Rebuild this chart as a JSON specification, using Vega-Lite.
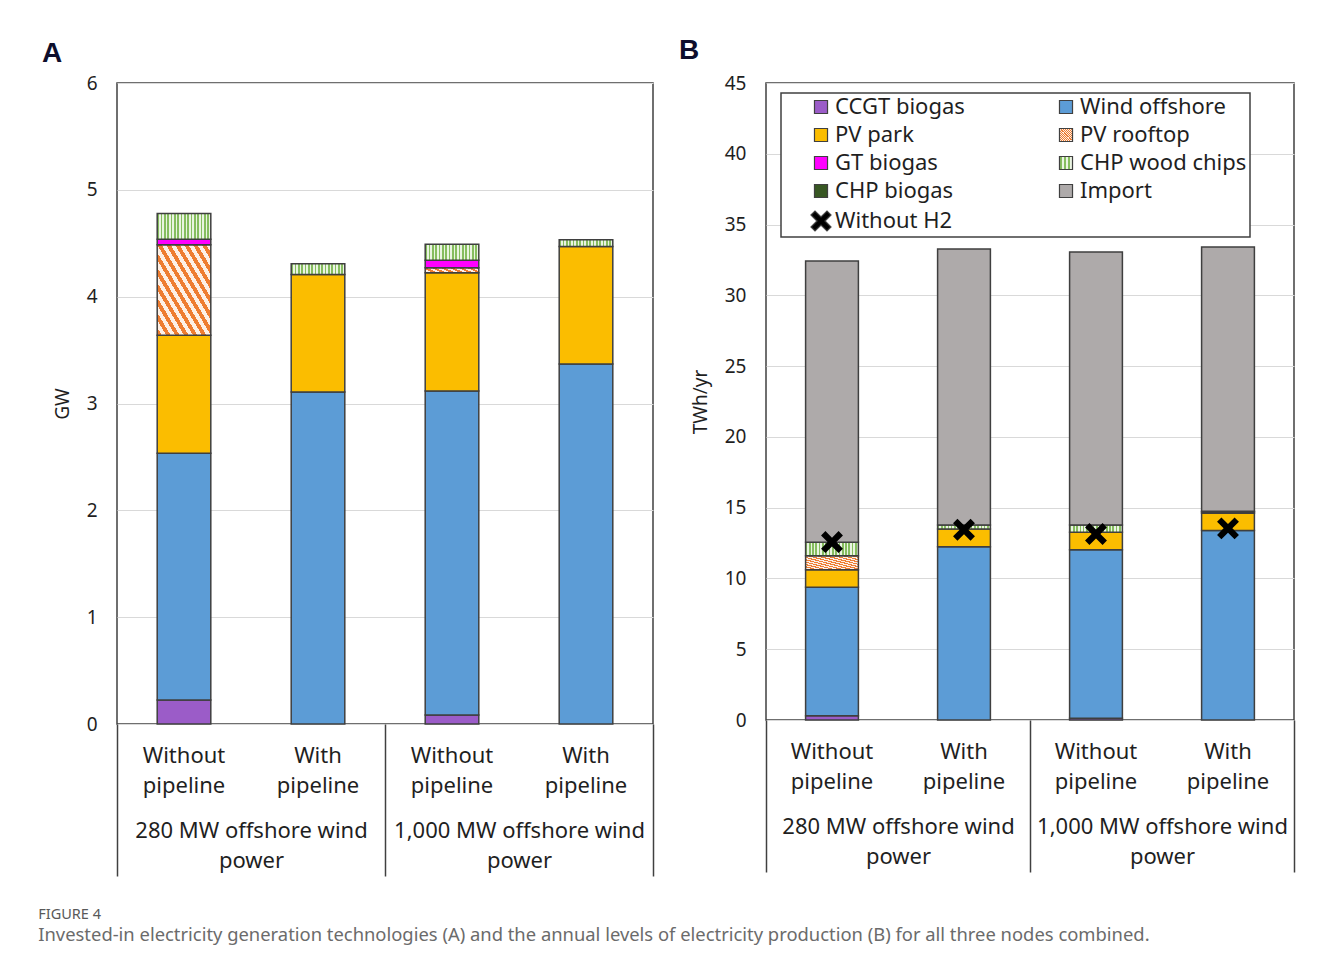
{
  "$schema": "https://vega.github.io/schema/vega-lite/v6.json",
  "background": "white",
  "padding": {"left": 38, "top": 36, "right": 10, "bottom": 10},
  "datasets": {
    "capacity": [
      {"group": "280 MW offshore wind power", "case": "280 MW, without pipeline", "tech": "CCGT biogas", "value": 0.225},
      {"group": "280 MW offshore wind power", "case": "280 MW, without pipeline", "tech": "Wind offshore", "value": 2.31},
      {"group": "280 MW offshore wind power", "case": "280 MW, without pipeline", "tech": "PV park", "value": 1.105},
      {"group": "280 MW offshore wind power", "case": "280 MW, without pipeline", "tech": "PV rooftop", "value": 0.845},
      {"group": "280 MW offshore wind power", "case": "280 MW, without pipeline", "tech": "GT biogas", "value": 0.053},
      {"group": "280 MW offshore wind power", "case": "280 MW, without pipeline", "tech": "CHP wood chips", "value": 0.24},
      {"group": "280 MW offshore wind power", "case": "280 MW, with pipeline", "tech": "Wind offshore", "value": 3.108},
      {"group": "280 MW offshore wind power", "case": "280 MW, with pipeline", "tech": "PV park", "value": 1.1},
      {"group": "280 MW offshore wind power", "case": "280 MW, with pipeline", "tech": "CHP wood chips", "value": 0.1},
      {"group": "1,000 MW offshore wind power", "case": "1,000 MW, without pipeline", "tech": "CCGT biogas", "value": 0.084},
      {"group": "1,000 MW offshore wind power", "case": "1,000 MW, without pipeline", "tech": "Wind offshore", "value": 3.033},
      {"group": "1,000 MW offshore wind power", "case": "1,000 MW, without pipeline", "tech": "PV park", "value": 1.108},
      {"group": "1,000 MW offshore wind power", "case": "1,000 MW, without pipeline", "tech": "PV rooftop", "value": 0.045},
      {"group": "1,000 MW offshore wind power", "case": "1,000 MW, without pipeline", "tech": "GT biogas", "value": 0.07},
      {"group": "1,000 MW offshore wind power", "case": "1,000 MW, without pipeline", "tech": "CHP wood chips", "value": 0.15},
      {"group": "1,000 MW offshore wind power", "case": "1,000 MW, with pipeline", "tech": "Wind offshore", "value": 3.37},
      {"group": "1,000 MW offshore wind power", "case": "1,000 MW, with pipeline", "tech": "PV park", "value": 1.1},
      {"group": "1,000 MW offshore wind power", "case": "1,000 MW, with pipeline", "tech": "CHP wood chips", "value": 0.063}
    ],
    "production": [
      {"group": "280 MW offshore wind power", "case": "280 MW, without pipeline", "tech": "CCGT biogas", "value": 0.3},
      {"group": "280 MW offshore wind power", "case": "280 MW, without pipeline", "tech": "Wind offshore", "value": 9.07},
      {"group": "280 MW offshore wind power", "case": "280 MW, without pipeline", "tech": "PV park", "value": 1.25},
      {"group": "280 MW offshore wind power", "case": "280 MW, without pipeline", "tech": "PV rooftop", "value": 0.99},
      {"group": "280 MW offshore wind power", "case": "280 MW, without pipeline", "tech": "CHP wood chips", "value": 0.94},
      {"group": "280 MW offshore wind power", "case": "280 MW, without pipeline", "tech": "Import", "value": 19.87},
      {"group": "280 MW offshore wind power", "case": "280 MW, with pipeline", "tech": "Wind offshore", "value": 12.24},
      {"group": "280 MW offshore wind power", "case": "280 MW, with pipeline", "tech": "PV park", "value": 1.25},
      {"group": "280 MW offshore wind power", "case": "280 MW, with pipeline", "tech": "CHP wood chips", "value": 0.29},
      {"group": "280 MW offshore wind power", "case": "280 MW, with pipeline", "tech": "Import", "value": 19.49},
      {"group": "1,000 MW offshore wind power", "case": "1,000 MW, without pipeline", "tech": "CCGT biogas", "value": 0.12},
      {"group": "1,000 MW offshore wind power", "case": "1,000 MW, without pipeline", "tech": "Wind offshore", "value": 11.91},
      {"group": "1,000 MW offshore wind power", "case": "1,000 MW, without pipeline", "tech": "PV park", "value": 1.23},
      {"group": "1,000 MW offshore wind power", "case": "1,000 MW, without pipeline", "tech": "CHP wood chips", "value": 0.52},
      {"group": "1,000 MW offshore wind power", "case": "1,000 MW, without pipeline", "tech": "Import", "value": 19.28},
      {"group": "1,000 MW offshore wind power", "case": "1,000 MW, with pipeline", "tech": "Wind offshore", "value": 13.38},
      {"group": "1,000 MW offshore wind power", "case": "1,000 MW, with pipeline", "tech": "PV park", "value": 1.22},
      {"group": "1,000 MW offshore wind power", "case": "1,000 MW, with pipeline", "tech": "CHP wood chips", "value": 0.1},
      {"group": "1,000 MW offshore wind power", "case": "1,000 MW, with pipeline", "tech": "CHP biogas", "value": 0.04},
      {"group": "1,000 MW offshore wind power", "case": "1,000 MW, with pipeline", "tech": "Import", "value": 18.67}
    ],
    "withoutH2": [
      {"case": "280 MW, without pipeline", "tech": "Without H2", "value": 12.57},
      {"case": "280 MW, with pipeline", "tech": "Without H2", "value": 13.44},
      {"case": "1,000 MW, without pipeline", "tech": "Without H2", "value": 13.14},
      {"case": "1,000 MW, with pipeline", "tech": "Without H2", "value": 13.54}
    ]
  },
  "title": {
    "text": "FIGURE 4",
    "subtitle": "Invested-in electricity generation technologies (A) and the annual levels of electricity production (B) for all three nodes combined.",
    "orient": "bottom",
    "anchor": "start",
    "frame": "bounds",
    "offset": 30,
    "dx": -3,
    "font": "Noto Sans",
    "fontSize": 14.5,
    "fontWeight": "normal",
    "color": "#595959",
    "subtitleFont": "Noto Sans",
    "subtitleFontSize": 18.4,
    "subtitleColor": "#6b6b6b",
    "subtitlePadding": 4
  },
  "spacing": 23,
  "hconcat": [
    {
      "width": 536,
      "height": 641,
      "title": {"text": "A", "anchor": "start", "frame": "group", "dx": -75, "offset": 6, "font": "Liberation Sans", "fontSize": 28, "fontWeight": "bold", "color": "#0e0e2c"},
      "data": {"name": "capacity"},
      "layer": [
        {
          "transform": [{"calculate": "indexof(['CCGT biogas','Wind offshore','PV park','PV rooftop','GT biogas','CHP wood chips','CHP biogas','Import'], datum.tech)", "as": "rank"}],
          "mark": {"type": "bar", "stroke": "#3f3f3f", "strokeWidth": 1.5},
          "encoding": {
            "x": {
              "field": "case", "type": "nominal",
              "sort": ["280 MW, without pipeline", "280 MW, with pipeline", "1,000 MW, without pipeline", "1,000 MW, with pipeline"],
              "scale": {"paddingInner": 0.6, "paddingOuter": 0.3},
              "axis": {"orient": "bottom", "title": null, "domain": false, "ticks": false, "grid": false, "labelAngle": 0, "labelFontSize": 22, "labelLineHeight": 30, "labelPadding": 21, "labelOverlap": false, "labelBaseline": "top", "labelExpr": "indexof(datum.label, 'without') >= 0 ? ['Without', 'pipeline'] : ['With', 'pipeline']"}
            },
            "y": {
              "field": "value", "type": "quantitative", "stack": "zero",
              "scale": {"domain": [0, 6], "nice": false},
              "axis": {"title": "GW", "values": [0, 1, 2, 3, 4, 5, 6]}
            },
            "color": {
              "field": "tech", "type": "nominal", "legend": null,
              "scale": {
                "domain": ["CCGT biogas", "Wind offshore", "PV park", "PV rooftop", "GT biogas", "CHP wood chips", "CHP biogas", "Import", "Without H2"],
                "range": [
                  "#9b5cc8",
                  "#5c9cd6",
                  "#fbbd00",
                  {"expr": "{gradient: 'linear', x1: 0, y1: 1, x2: 1, y2: 0, stops: [{offset: 0, color: '#ee7d31'}, {offset: 0.0417, color: '#ee7d31'}, {offset: 0.0417, color: '#fdf0e6'}, {offset: 0.0833, color: '#fdf0e6'}, {offset: 0.0833, color: '#ee7d31'}, {offset: 0.125, color: '#ee7d31'}, {offset: 0.125, color: '#fdf0e6'}, {offset: 0.1667, color: '#fdf0e6'}, {offset: 0.1667, color: '#ee7d31'}, {offset: 0.2083, color: '#ee7d31'}, {offset: 0.2083, color: '#fdf0e6'}, {offset: 0.25, color: '#fdf0e6'}, {offset: 0.25, color: '#ee7d31'}, {offset: 0.2917, color: '#ee7d31'}, {offset: 0.2917, color: '#fdf0e6'}, {offset: 0.3333, color: '#fdf0e6'}, {offset: 0.3333, color: '#ee7d31'}, {offset: 0.375, color: '#ee7d31'}, {offset: 0.375, color: '#fdf0e6'}, {offset: 0.4167, color: '#fdf0e6'}, {offset: 0.4167, color: '#ee7d31'}, {offset: 0.4583, color: '#ee7d31'}, {offset: 0.4583, color: '#fdf0e6'}, {offset: 0.5, color: '#fdf0e6'}, {offset: 0.5, color: '#ee7d31'}, {offset: 0.5417, color: '#ee7d31'}, {offset: 0.5417, color: '#fdf0e6'}, {offset: 0.5833, color: '#fdf0e6'}, {offset: 0.5833, color: '#ee7d31'}, {offset: 0.625, color: '#ee7d31'}, {offset: 0.625, color: '#fdf0e6'}, {offset: 0.6667, color: '#fdf0e6'}, {offset: 0.6667, color: '#ee7d31'}, {offset: 0.7083, color: '#ee7d31'}, {offset: 0.7083, color: '#fdf0e6'}, {offset: 0.75, color: '#fdf0e6'}, {offset: 0.75, color: '#ee7d31'}, {offset: 0.7917, color: '#ee7d31'}, {offset: 0.7917, color: '#fdf0e6'}, {offset: 0.8333, color: '#fdf0e6'}, {offset: 0.8333, color: '#ee7d31'}, {offset: 0.875, color: '#ee7d31'}, {offset: 0.875, color: '#fdf0e6'}, {offset: 0.9167, color: '#fdf0e6'}, {offset: 0.9167, color: '#ee7d31'}, {offset: 0.9583, color: '#ee7d31'}, {offset: 0.9583, color: '#fdf0e6'}, {offset: 1, color: '#fdf0e6'}]}"},
                  "#ff00ff",
                  {"expr": "{gradient: 'linear', x1: 0, y1: 0, x2: 1, y2: 0, stops: [{offset: 0, color: '#86bd5f'}, {offset: 0.03125, color: '#86bd5f'}, {offset: 0.03125, color: '#eaf4e2'}, {offset: 0.0625, color: '#eaf4e2'}, {offset: 0.0625, color: '#86bd5f'}, {offset: 0.09375, color: '#86bd5f'}, {offset: 0.09375, color: '#eaf4e2'}, {offset: 0.125, color: '#eaf4e2'}, {offset: 0.125, color: '#86bd5f'}, {offset: 0.15625, color: '#86bd5f'}, {offset: 0.15625, color: '#eaf4e2'}, {offset: 0.1875, color: '#eaf4e2'}, {offset: 0.1875, color: '#86bd5f'}, {offset: 0.21875, color: '#86bd5f'}, {offset: 0.21875, color: '#eaf4e2'}, {offset: 0.25, color: '#eaf4e2'}, {offset: 0.25, color: '#86bd5f'}, {offset: 0.28125, color: '#86bd5f'}, {offset: 0.28125, color: '#eaf4e2'}, {offset: 0.3125, color: '#eaf4e2'}, {offset: 0.3125, color: '#86bd5f'}, {offset: 0.34375, color: '#86bd5f'}, {offset: 0.34375, color: '#eaf4e2'}, {offset: 0.375, color: '#eaf4e2'}, {offset: 0.375, color: '#86bd5f'}, {offset: 0.40625, color: '#86bd5f'}, {offset: 0.40625, color: '#eaf4e2'}, {offset: 0.4375, color: '#eaf4e2'}, {offset: 0.4375, color: '#86bd5f'}, {offset: 0.46875, color: '#86bd5f'}, {offset: 0.46875, color: '#eaf4e2'}, {offset: 0.5, color: '#eaf4e2'}, {offset: 0.5, color: '#86bd5f'}, {offset: 0.53125, color: '#86bd5f'}, {offset: 0.53125, color: '#eaf4e2'}, {offset: 0.5625, color: '#eaf4e2'}, {offset: 0.5625, color: '#86bd5f'}, {offset: 0.59375, color: '#86bd5f'}, {offset: 0.59375, color: '#eaf4e2'}, {offset: 0.625, color: '#eaf4e2'}, {offset: 0.625, color: '#86bd5f'}, {offset: 0.65625, color: '#86bd5f'}, {offset: 0.65625, color: '#eaf4e2'}, {offset: 0.6875, color: '#eaf4e2'}, {offset: 0.6875, color: '#86bd5f'}, {offset: 0.71875, color: '#86bd5f'}, {offset: 0.71875, color: '#eaf4e2'}, {offset: 0.75, color: '#eaf4e2'}, {offset: 0.75, color: '#86bd5f'}, {offset: 0.78125, color: '#86bd5f'}, {offset: 0.78125, color: '#eaf4e2'}, {offset: 0.8125, color: '#eaf4e2'}, {offset: 0.8125, color: '#86bd5f'}, {offset: 0.84375, color: '#86bd5f'}, {offset: 0.84375, color: '#eaf4e2'}, {offset: 0.875, color: '#eaf4e2'}, {offset: 0.875, color: '#86bd5f'}, {offset: 0.90625, color: '#86bd5f'}, {offset: 0.90625, color: '#eaf4e2'}, {offset: 0.9375, color: '#eaf4e2'}, {offset: 0.9375, color: '#86bd5f'}, {offset: 0.96875, color: '#86bd5f'}, {offset: 0.96875, color: '#eaf4e2'}, {offset: 1, color: '#eaf4e2'}]}"},
                  "#385723",
                  "#aeaaaa",
                  "#000000"
                ]
              }
            },
            "order": {"field": "rank", "type": "quantitative", "sort": "ascending"}
          }
        },
        {
          "mark": {"type": "rule", "strokeOpacity": 0},
          "encoding": {
            "x": {
              "field": "group", "type": "nominal",
              "sort": ["280 MW offshore wind power", "1,000 MW offshore wind power"],
              "scale": {"type": "band", "paddingInner": 0, "paddingOuter": 0},
              "axis": {"orient": "bottom", "title": null, "domain": false, "ticks": true, "tickBand": "extent", "tickSize": 152, "tickColor": "#404040", "tickWidth": 1.5, "grid": false, "labelAngle": 0, "labelFontSize": 22, "labelLineHeight": 30, "labelPadding": -56, "labelLimit": 400, "labelOverlap": false, "labelBaseline": "top", "labelExpr": "datum.label ? [replace(datum.label, ' power', ''), 'power'] : ''"}
            }
          }
        }
      ],
      "resolve": {"scale": {"x": "independent"}, "axis": {"x": "independent"}}
    },
    {
      "width": 528,
      "height": 637,
      "title": {"text": "B", "anchor": "start", "frame": "group", "dx": -87, "offset": 9, "font": "Liberation Sans", "fontSize": 28, "fontWeight": "bold", "color": "#0e0e2c"},
      "layer": [
        {
          "layer": [
            {
              "data": {"name": "production"},
              "transform": [{"calculate": "indexof(['CCGT biogas','Wind offshore','PV park','PV rooftop','GT biogas','CHP wood chips','CHP biogas','Import'], datum.tech)", "as": "rank"}],
              "mark": {"type": "bar", "stroke": "#3f3f3f", "strokeWidth": 1.5},
              "encoding": {
                "x": {
                  "field": "case", "type": "nominal",
                  "sort": ["280 MW, without pipeline", "280 MW, with pipeline", "1,000 MW, without pipeline", "1,000 MW, with pipeline"],
                  "scale": {"paddingInner": 0.6, "paddingOuter": 0.3},
                  "axis": {"orient": "bottom", "title": null, "domain": false, "ticks": false, "grid": false, "labelAngle": 0, "labelFontSize": 22, "labelLineHeight": 30, "labelPadding": 21, "labelOverlap": false, "labelBaseline": "top", "labelExpr": "indexof(datum.label, 'without') >= 0 ? ['Without', 'pipeline'] : ['With', 'pipeline']"}
                },
                "y": {
                  "field": "value", "type": "quantitative", "stack": "zero",
                  "scale": {"domain": [0, 45], "nice": false},
                  "axis": {"title": "TWh/yr", "values": [0, 5, 10, 15, 20, 25, 30, 35, 40, 45]}
                },
                "color": {
                  "field": "tech", "type": "nominal",
                  "legend": {
                    "title": null, "orient": "none", "legendX": 15, "legendY": 10, "direction": "horizontal", "columns": 2,
                    "symbolType": "square", "symbolSize": 170, "symbolStrokeColor": "#404040", "symbolStrokeWidth": 1.2,
                    "labelFont": "Noto Sans", "labelFontSize": 22, "labelColor": "#1f1f1f", "labelLimit": 300, "labelOffset": 3,
                    "rowPadding": 6, "columnPadding": 64, "padding": 3, "symbolOffset": 26,
                    "strokeColor": "#404040", "fillColor": "white",
                    "encode": {
                      "symbols": {"update": {
                        "shape": {"signal": "datum.value === 'Without H2' ? 'M-1,-0.6L-0.6,-1L0,-0.4L0.6,-1L1,-0.6L0.4,0L1,0.6L0.6,1L0,0.4L-0.6,1L-1,0.6L-0.4,0Z' : 'square'"},
                        "size": {"signal": "datum.value === 'Without H2' ? 400 : 170"}
                      }},
                      "legend": {"update": {"strokeWidth": {"value": 1.5}}}
                    }
                  },
                  "scale": {
                    "domain": ["CCGT biogas", "Wind offshore", "PV park", "PV rooftop", "GT biogas", "CHP wood chips", "CHP biogas", "Import", "Without H2"],
                    "range": [
                      "#9b5cc8",
                      "#5c9cd6",
                      "#fbbd00",
                      {"expr": "{gradient: 'linear', x1: 0, y1: 1, x2: 1, y2: 0, stops: [{offset: 0, color: '#ee7d31'}, {offset: 0.0417, color: '#ee7d31'}, {offset: 0.0417, color: '#fdf0e6'}, {offset: 0.0833, color: '#fdf0e6'}, {offset: 0.0833, color: '#ee7d31'}, {offset: 0.125, color: '#ee7d31'}, {offset: 0.125, color: '#fdf0e6'}, {offset: 0.1667, color: '#fdf0e6'}, {offset: 0.1667, color: '#ee7d31'}, {offset: 0.2083, color: '#ee7d31'}, {offset: 0.2083, color: '#fdf0e6'}, {offset: 0.25, color: '#fdf0e6'}, {offset: 0.25, color: '#ee7d31'}, {offset: 0.2917, color: '#ee7d31'}, {offset: 0.2917, color: '#fdf0e6'}, {offset: 0.3333, color: '#fdf0e6'}, {offset: 0.3333, color: '#ee7d31'}, {offset: 0.375, color: '#ee7d31'}, {offset: 0.375, color: '#fdf0e6'}, {offset: 0.4167, color: '#fdf0e6'}, {offset: 0.4167, color: '#ee7d31'}, {offset: 0.4583, color: '#ee7d31'}, {offset: 0.4583, color: '#fdf0e6'}, {offset: 0.5, color: '#fdf0e6'}, {offset: 0.5, color: '#ee7d31'}, {offset: 0.5417, color: '#ee7d31'}, {offset: 0.5417, color: '#fdf0e6'}, {offset: 0.5833, color: '#fdf0e6'}, {offset: 0.5833, color: '#ee7d31'}, {offset: 0.625, color: '#ee7d31'}, {offset: 0.625, color: '#fdf0e6'}, {offset: 0.6667, color: '#fdf0e6'}, {offset: 0.6667, color: '#ee7d31'}, {offset: 0.7083, color: '#ee7d31'}, {offset: 0.7083, color: '#fdf0e6'}, {offset: 0.75, color: '#fdf0e6'}, {offset: 0.75, color: '#ee7d31'}, {offset: 0.7917, color: '#ee7d31'}, {offset: 0.7917, color: '#fdf0e6'}, {offset: 0.8333, color: '#fdf0e6'}, {offset: 0.8333, color: '#ee7d31'}, {offset: 0.875, color: '#ee7d31'}, {offset: 0.875, color: '#fdf0e6'}, {offset: 0.9167, color: '#fdf0e6'}, {offset: 0.9167, color: '#ee7d31'}, {offset: 0.9583, color: '#ee7d31'}, {offset: 0.9583, color: '#fdf0e6'}, {offset: 1, color: '#fdf0e6'}]}"},
                      "#ff00ff",
                      {"expr": "{gradient: 'linear', x1: 0, y1: 0, x2: 1, y2: 0, stops: [{offset: 0, color: '#86bd5f'}, {offset: 0.03125, color: '#86bd5f'}, {offset: 0.03125, color: '#eaf4e2'}, {offset: 0.0625, color: '#eaf4e2'}, {offset: 0.0625, color: '#86bd5f'}, {offset: 0.09375, color: '#86bd5f'}, {offset: 0.09375, color: '#eaf4e2'}, {offset: 0.125, color: '#eaf4e2'}, {offset: 0.125, color: '#86bd5f'}, {offset: 0.15625, color: '#86bd5f'}, {offset: 0.15625, color: '#eaf4e2'}, {offset: 0.1875, color: '#eaf4e2'}, {offset: 0.1875, color: '#86bd5f'}, {offset: 0.21875, color: '#86bd5f'}, {offset: 0.21875, color: '#eaf4e2'}, {offset: 0.25, color: '#eaf4e2'}, {offset: 0.25, color: '#86bd5f'}, {offset: 0.28125, color: '#86bd5f'}, {offset: 0.28125, color: '#eaf4e2'}, {offset: 0.3125, color: '#eaf4e2'}, {offset: 0.3125, color: '#86bd5f'}, {offset: 0.34375, color: '#86bd5f'}, {offset: 0.34375, color: '#eaf4e2'}, {offset: 0.375, color: '#eaf4e2'}, {offset: 0.375, color: '#86bd5f'}, {offset: 0.40625, color: '#86bd5f'}, {offset: 0.40625, color: '#eaf4e2'}, {offset: 0.4375, color: '#eaf4e2'}, {offset: 0.4375, color: '#86bd5f'}, {offset: 0.46875, color: '#86bd5f'}, {offset: 0.46875, color: '#eaf4e2'}, {offset: 0.5, color: '#eaf4e2'}, {offset: 0.5, color: '#86bd5f'}, {offset: 0.53125, color: '#86bd5f'}, {offset: 0.53125, color: '#eaf4e2'}, {offset: 0.5625, color: '#eaf4e2'}, {offset: 0.5625, color: '#86bd5f'}, {offset: 0.59375, color: '#86bd5f'}, {offset: 0.59375, color: '#eaf4e2'}, {offset: 0.625, color: '#eaf4e2'}, {offset: 0.625, color: '#86bd5f'}, {offset: 0.65625, color: '#86bd5f'}, {offset: 0.65625, color: '#eaf4e2'}, {offset: 0.6875, color: '#eaf4e2'}, {offset: 0.6875, color: '#86bd5f'}, {offset: 0.71875, color: '#86bd5f'}, {offset: 0.71875, color: '#eaf4e2'}, {offset: 0.75, color: '#eaf4e2'}, {offset: 0.75, color: '#86bd5f'}, {offset: 0.78125, color: '#86bd5f'}, {offset: 0.78125, color: '#eaf4e2'}, {offset: 0.8125, color: '#eaf4e2'}, {offset: 0.8125, color: '#86bd5f'}, {offset: 0.84375, color: '#86bd5f'}, {offset: 0.84375, color: '#eaf4e2'}, {offset: 0.875, color: '#eaf4e2'}, {offset: 0.875, color: '#86bd5f'}, {offset: 0.90625, color: '#86bd5f'}, {offset: 0.90625, color: '#eaf4e2'}, {offset: 0.9375, color: '#eaf4e2'}, {offset: 0.9375, color: '#86bd5f'}, {offset: 0.96875, color: '#86bd5f'}, {offset: 0.96875, color: '#eaf4e2'}, {offset: 1, color: '#eaf4e2'}]}"},
                      "#385723",
                      "#aeaaaa",
                      "#000000"
                    ]
                  }
                },
                "order": {"field": "rank", "type": "quantitative", "sort": "ascending"}
              }
            },
            {
              "data": {"name": "withoutH2"},
              "mark": {"type": "point", "shape": "M-1,-0.6L-0.6,-1L0,-0.4L0.6,-1L1,-0.6L0.4,0L1,0.6L0.6,1L0,0.4L-0.6,1L-1,0.6L-0.4,0Z", "filled": true, "size": 480, "opacity": 1},
              "encoding": {
                "x": {"field": "case", "type": "nominal", "sort": ["280 MW, without pipeline", "280 MW, with pipeline", "1,000 MW, without pipeline", "1,000 MW, with pipeline"]},
                "y": {"field": "value", "type": "quantitative", "stack": null},
                "color": {"field": "tech", "type": "nominal"}
              }
            }
          ]
        },
        {
          "data": {"name": "production"},
          "mark": {"type": "rule", "strokeOpacity": 0},
          "encoding": {
            "x": {
              "field": "group", "type": "nominal",
              "sort": ["280 MW offshore wind power", "1,000 MW offshore wind power"],
              "scale": {"type": "band", "paddingInner": 0, "paddingOuter": 0},
              "axis": {"orient": "bottom", "title": null, "domain": false, "ticks": true, "tickBand": "extent", "tickSize": 152, "tickColor": "#404040", "tickWidth": 1.5, "grid": false, "labelAngle": 0, "labelFontSize": 22, "labelLineHeight": 30, "labelPadding": -56, "labelLimit": 400, "labelOverlap": false, "labelBaseline": "top", "labelExpr": "datum.label ? [replace(datum.label, ' power', ''), 'power'] : ''"}
            }
          }
        }
      ],
      "resolve": {"scale": {"x": "independent"}, "axis": {"x": "independent"}}
    }
  ],
  "resolve": {"scale": {"color": "independent"}, "legend": {"color": "independent"}},
  "config": {
    "font": "Noto Sans",
    "view": {"stroke": "#404040", "strokeWidth": 1.5},
    "axis": {"labelColor": "#1f1f1f", "titleColor": "#1f1f1f", "labelFont": "Noto Sans", "titleFont": "Noto Sans"},
    "axisY": {"domain": false, "ticks": false, "grid": true, "gridColor": "#d9d9d9", "gridWidth": 1, "labelFontSize": 19, "labelPadding": 20, "titleFontSize": 19, "titleFontWeight": "normal", "titlePadding": 14}
  }
}
